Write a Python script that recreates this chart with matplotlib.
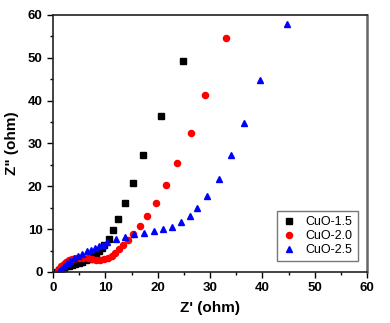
import matplotlib
matplotlib.use("Agg")
from matplotlib import pyplot
from matplotlib.ticker import MultipleLocator

pyplot.rcParams["font.family"] = ["Liberation Sans", "DejaVu Sans"]

# Nyquist data (Z' , Z'')
x15 = [0.8, 1.2, 1.6, 2.0, 2.5, 3.0, 3.6, 4.2, 4.9, 5.6, 6.3, 7.0, 7.6, 8.2, 8.8,
       9.3, 9.8, 10.7, 11.5, 12.4, 13.7, 15.3, 17.2, 20.7, 24.8]
y15 = [0.1, 0.4, 0.7, 1.0, 1.3, 1.5, 1.7, 1.9, 2.1, 2.4, 2.7, 3.1, 3.6, 4.2, 4.9,
       5.6, 6.4, 7.7, 9.8, 12.4, 16.1, 20.8, 27.3, 36.5, 49.3]

x20 = [0.9, 1.2, 1.6, 2.0, 2.5, 3.0, 3.6, 4.3, 5.0, 5.8, 6.6, 7.4, 8.2, 9.0, 9.8,
       10.5, 11.2, 11.9, 12.6, 13.3, 14.3, 15.3, 16.6, 18.0, 19.6, 21.5, 23.6,
       26.4, 29.0, 33.1]
y20 = [0.2, 0.8, 1.4, 1.9, 2.4, 2.8, 3.0, 3.2, 3.3, 3.3, 3.2, 3.0, 2.9, 2.9, 3.0,
       3.3, 3.8, 4.5, 5.3, 6.2, 7.4, 8.8, 10.7, 13.1, 16.0, 20.2, 25.4, 32.5,
       41.4, 54.5]

x25 = [1.2, 1.6, 2.1, 2.7, 3.3, 4.0, 4.8, 5.6, 6.4, 7.2, 8.0, 8.8, 9.5, 10.3,
       12.0, 13.8, 15.5, 17.4, 19.2, 21.0, 22.7, 24.4, 26.1, 27.6, 29.4, 31.7,
       34.0, 36.5, 39.6, 44.8]
y25 = [0.3, 0.8, 1.4, 2.0, 2.6, 3.2, 3.8, 4.3, 4.8, 5.2, 5.6, 6.0, 6.4, 7.0,
       7.8, 8.2, 8.8, 9.2, 9.6, 10.0, 10.6, 11.7, 13.0, 15.0, 17.8, 21.7,
       27.3, 34.7, 44.8, 57.8]

labels = ["CuO-1.5", "CuO-2.0", "CuO-2.5"]

fig = pyplot.figure(figsize=(3.9, 3.23), dpi=100)
ax = fig.add_axes([0.136, 0.158, 0.805, 0.796])

ax.plot(x15, y15, ls="none", marker="s", ms=4.0, color="black", mec="black",
        label=labels[0])
ax.plot(x20, y20, ls="none", marker="o", ms=4.4, color="red", mec="red",
        label=labels[1])
ax.plot(x25, y25, ls="none", marker="^", ms=4.6, color="blue", mec="blue",
        label=labels[2])

ax.set_xlim(0, 60)
ax.set_ylim(0, 60)
ax.xaxis.set_major_locator(MultipleLocator(10))
ax.xaxis.set_minor_locator(MultipleLocator(5))
ax.yaxis.set_major_locator(MultipleLocator(10))
ax.yaxis.set_minor_locator(MultipleLocator(5))
ax.tick_params(which="both", direction="out", top=False, right=False,
               labelsize=9.5, width=1.0)
ax.tick_params(which="major", length=4)
ax.tick_params(which="minor", length=2.5)
for lbl in ax.get_xticklabels() + ax.get_yticklabels():
    lbl.set_fontweight("bold")

for s in ["left", "bottom", "top"]:
    ax.spines[s].set_linewidth(1.2)
    ax.spines[s].set_color("#222222")
ax.spines["right"].set_linewidth(1.8)
ax.spines["right"].set_color("#666666")

ax.set_xlabel("Z' (ohm)", fontsize=11, fontweight="bold", labelpad=5)
ax.set_ylabel('Z" (ohm)', fontsize=11, fontweight="bold", labelpad=6)

leg = ax.legend(loc="lower right", bbox_to_anchor=(0.97, 0.043), fontsize=9,
                frameon=True, fancybox=False, edgecolor="#555555",
                handletextpad=0.7, handlelength=1.2, borderpad=0.4,
                labelspacing=0.15, borderaxespad=0)
leg.get_frame().set_linewidth(1.0)

fig.savefig("out.png", dpi=100)
